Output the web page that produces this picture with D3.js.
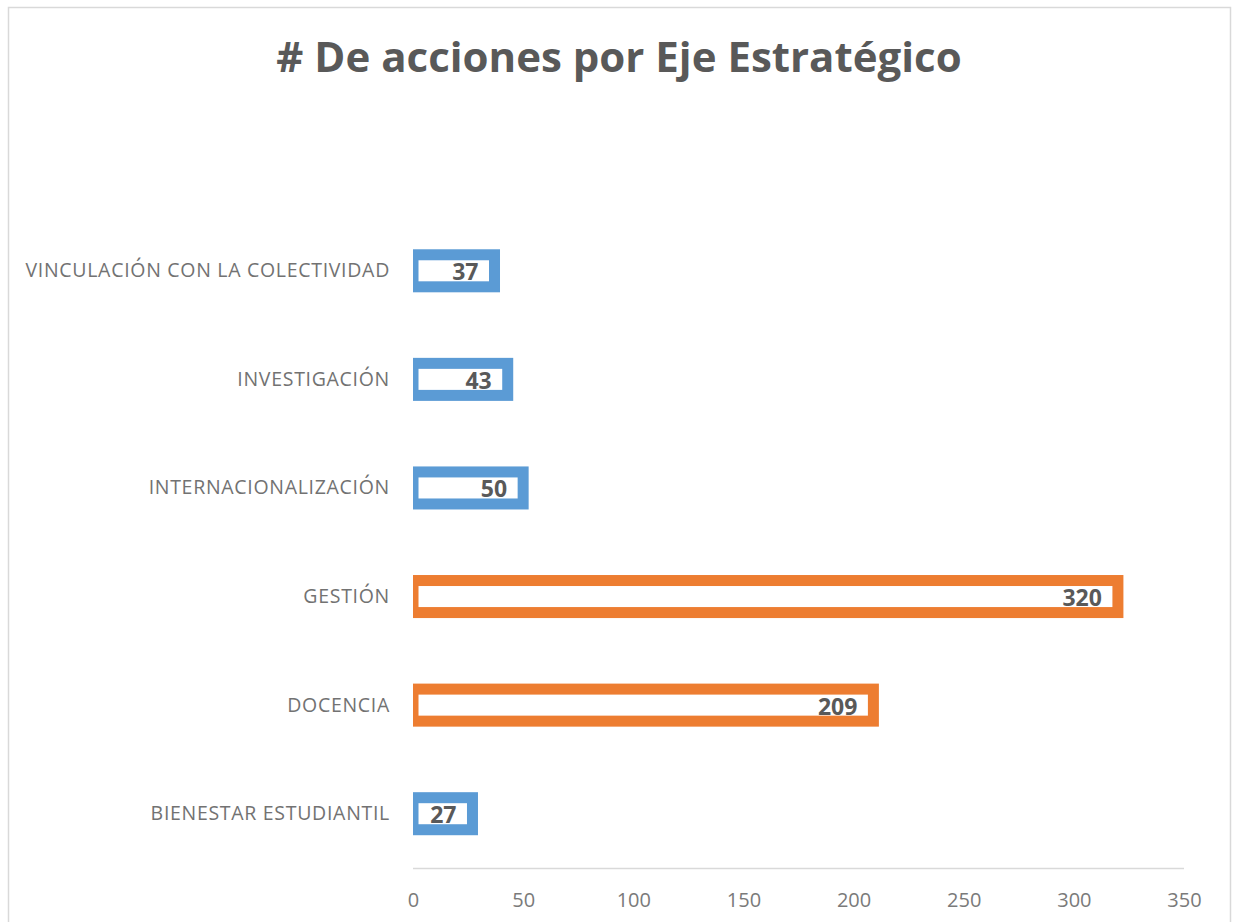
<!DOCTYPE html>
<html>
<head>
<meta charset="utf-8">
<script src="https://cdn.jsdelivr.net/npm/d3@7"></script>
<style>
  body { margin: 0; background: #fff; }
  text { font-family: "Open Sans", "Liberation Sans", sans-serif; }
</style>
</head>
<body>
<div id="chart"></div>
<script>
// data, top to bottom
let categories = ["VINCULACIÓN CON LA COLECTIVIDAD", "INVESTIGACIÓN", "INTERNACIONALIZACIÓN", "GESTIÓN", "DOCENCIA", "BIENESTAR ESTUDIANTIL"];
let values = [37, 43, 50, 320, 209, 27];
let xTicks = [0, 50, 100, 150, 200, 250, 300, 350];
let highlighted = ["GESTIÓN", "DOCENCIA"];
let title = "# De acciones por Eje Estratégico";

let width = 1234, height = 922;
let margin = {top: 216.5, right: 50, bottom: 54, left: 413};
let innerW = 1184 - margin.left;
let innerH = 868 - margin.top;

let svg = d3.select("#chart").append("svg")
    .attr("width", width)
    .attr("height", height);

// outer frame
svg.append("rect")
    .attr("x", 8.5).attr("y", 7.5)
    .attr("width", 1222).attr("height", 930)
    .attr("fill", "none")
    .attr("stroke", "#d9d9d9")
    .attr("stroke-width", 1.5);

svg.append("text")
    .attr("x", 619).attr("y", 72)
    .attr("text-anchor", "middle")
    .attr("font-size", 42)
    .attr("font-weight", "bold")
    .attr("fill", "#595959")
    .text(title);

let g = svg.append("g")
    .attr("transform", `translate(${margin.left}, ${margin.top})`);

let x = d3.scaleLinear().domain([0, 350]).range([0, innerW]);
let y = d3.scaleBand().domain(categories).range([0, innerH])
    .paddingInner(0.705).paddingOuter(0.3525);

// axis line at bottom
g.append("line")
    .attr("x1", 0).attr("x2", innerW)
    .attr("y1", innerH + 0.5).attr("y2", innerH + 0.5)
    .attr("stroke", "#d9d9d9")
    .attr("stroke-width", 1.5);

let xAxis = d3.axisBottom(x).tickValues(xTicks).tickSize(0).tickPadding(0);
let xAxisGroup = g.append("g")
    .attr("transform", `translate(0, ${innerH})`)
    .call(xAxis);
xAxisGroup.select(".domain").remove();
xAxisGroup.selectAll("text")
    .attr("dy", null)
    .attr("y", 38.7)
    .attr("font-size", 20)
    .attr("font-family", "\"Open Sans\", sans-serif")
    .attr("fill", "#7a7a7a");

let yAxis = d3.axisLeft(y).tickSize(0).tickPadding(23);
let yAxisGroup = g.append("g").call(yAxis);
yAxisGroup.select(".domain").remove();
yAxisGroup.selectAll("text")
    .attr("dy", null)
    .attr("y", 6.5)
    .attr("font-size", 19.5)
    .attr("letter-spacing", 0.7)
    .attr("font-family", "\"Open Sans\", sans-serif")
    .attr("fill", "#727272");

// clip so the thick outline does not spill left of zero
g.append("clipPath").attr("id", "plotClip")
    .append("rect")
    .attr("x", 0).attr("y", -20)
    .attr("width", innerW + 40).attr("height", innerH + 40);

let rows = categories.map((c, i) => ({name: c, value: values[i]}));

g.append("g").attr("clip-path", "url(#plotClip)")
    .selectAll("rect")
    .data(rows)
    .enter()
    .append("rect")
    .attr("x", x(0))
    .attr("y", d => y(d.name))
    .attr("width", d => x(d.value) - x(0))
    .attr("height", y.bandwidth())
    .attr("fill", "#fff")
    .attr("stroke", d => highlighted.includes(d.name) ? "#ed7d31" : "#5b9bd5")
    .attr("stroke-width", 11);

g.selectAll(".val")
    .data(rows)
    .enter()
    .append("text")
    .attr("class", "val")
    .attr("x", d => x(d.value) - 16)
    .attr("y", d => y(d.name) + y.bandwidth() / 2 + 9.5)
    .attr("text-anchor", "end")
    .attr("font-size", 23)
    .attr("font-weight", "bold")
    .attr("fill", "#595959")
    .text(d => d.value);
</script>
</body>
</html>
